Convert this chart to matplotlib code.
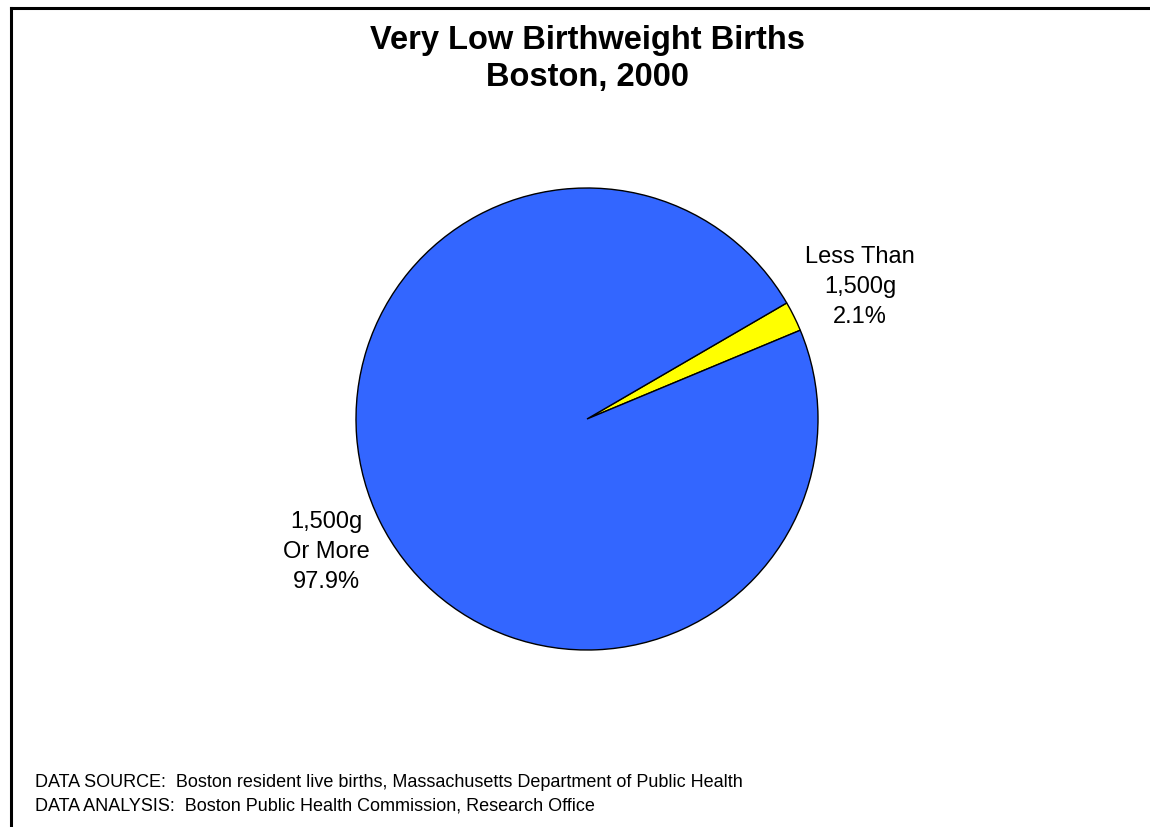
import matplotlib.pyplot as plt
from matplotlib import font_manager
from matplotlib.lines import Line2D

# pick the regular-width Liberation Sans files (avoid the Narrow variant)
reg_file, bold_file = None, None
for f in font_manager.fontManager.ttflist:
    if f.name == 'Liberation Sans' and 'Narrow' not in f.fname:
        if f.weight in ('normal', 400) and f.style == 'normal':
            reg_file = f.fname
        elif f.weight in ('bold', 700) and f.style == 'normal':
            bold_file = f.fname


def fp(size, bold=False):
    path = bold_file if bold else reg_file
    if path:
        return font_manager.FontProperties(fname=path, size=size)
    return font_manager.FontProperties(family='DejaVu Sans', size=size,
                                       weight='bold' if bold else 'normal')


# --- Data ---
categories = ['Less Than\n1,500g', '1,500g\nOr More']
percents = [2.1, 97.9]
colors = ['#FFFF00', '#3366FF']

title = 'Very Low Birthweight Births\nBoston, 2000'
footer = ('DATA SOURCE:  Boston resident live births, Massachusetts Department of Public Health\n'
          'DATA ANALYSIS:  Boston Public Health Commission, Research Office')

W, H = 1150, 827
fig = plt.figure(figsize=(W / 100, H / 100), dpi=100)

# frame lines (top and left edges visible)
fig.add_artist(Line2D([11 / W, 11 / W], [0, 1 - 7.5 / H], color='black', lw=2.2))
fig.add_artist(Line2D([11 / W, 1], [1 - 7.5 / H, 1 - 7.5 / H], color='black', lw=2.2))

# pie axes: centre ~(587, 419), radius ~231 px
cx, cy, r = 587, 419, 231
ax = fig.add_axes([(cx - r) / W, (H - cy - r) / H, 2 * r / W, 2 * r / H])
ax.pie(percents, colors=colors, startangle=22.6, counterclock=True,
       wedgeprops=dict(edgecolor='black', linewidth=1.0))
ax.set_aspect('equal')
ax.set_xlim(-1, 1)
ax.set_ylim(-1, 1)
ax.axis('off')

# slice labels
fig.text(860 / W, 1 - 287 / H, f'{categories[0]}\n{percents[0]}%',
         ha='center', va='center', fontproperties=fp(17), linespacing=1.45)
fig.text(326 / W, 1 - 552 / H, f'{categories[1]}\n{percents[1]}%',
         ha='center', va='center', fontproperties=fp(17), linespacing=1.45)

fig.text(587 / W, 1 - 59 / H, title, ha='center', va='center',
         fontproperties=fp(23.5, bold=True), linespacing=1.22)

fig.text(35 / W, 1 - 794 / H, footer, ha='left', va='center',
         fontproperties=fp(13), linespacing=1.5)

fig.savefig('out.png', dpi=100)
